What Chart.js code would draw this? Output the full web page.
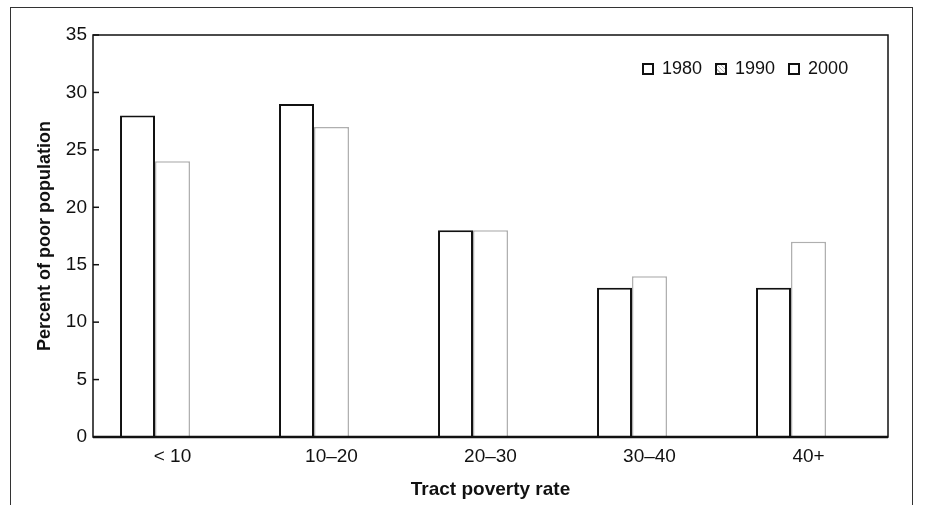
<!DOCTYPE html>
<html>
<head>
<meta charset="utf-8">
<script src="https://cdn.jsdelivr.net/npm/chart.js@4/dist/chart.umd.min.js"></script>
<style>
  body { margin: 0; background: #fff; }
  #wrap { position: relative; width: 927px; height: 505px; }
  #frame {
    position: absolute; left: 10px; top: 7px; width: 901px; height: 510px;
    border: 1.5px solid #333; border-bottom: none; pointer-events: none;
  }
  #legend {
    position: absolute; left: 642px; top: 58px;
    font: 18px "Liberation Sans", Arial, sans-serif; color: #111;
    display: flex; align-items: center; white-space: nowrap;
  }
  #legend span.box {
    display: inline-block; width: 8px; height: 8px; border: 2px solid #111;
    margin-right: 8px; background: #fff;
  }
  #legend span.item { display: inline-flex; align-items: center; margin-right: 13px; }
</style>
</head>
<body>
<div id="wrap">
  <canvas id="chart" width="927" height="505"></canvas>
  <div id="frame"></div>
  <div id="legend"></div>
</div>
<script>
// values
const categories = ["< 10", "10\u201320", "20\u201330", "30\u201340", "40+"];
const years = ["1980", "1990", "2000"];
const share1980 = [28, 29, 18, 13, 13];
const share1990 = [24, 27, 18, 14, 17];
const share2000 = [null, null, null, null, null]; // bars not legible in the scan
const yTicks = [0, 5, 10, 15, 20, 25, 30, 35];

// box around the plot and short inward ticks on the y axis
const framePlugin = {
  id: "frame",
  afterDraw(chart) {
    const { ctx, chartArea: a, scales } = chart;
    ctx.save();
    ctx.strokeStyle = "#111";
    ctx.lineWidth = 1.5;
    ctx.strokeRect(a.left, a.top, a.right - a.left, a.bottom - a.top);
    ctx.lineWidth = 2.5;
    ctx.beginPath();
    ctx.moveTo(a.left, a.bottom);
    ctx.lineTo(a.right, a.bottom);
    ctx.stroke();
    ctx.lineWidth = 1.5;
    yTicks.forEach(function (v) {
      const y = scales.y.getPixelForValue(v);
      ctx.beginPath();
      ctx.moveTo(a.left, y);
      ctx.lineTo(a.left + 6, y);
      ctx.stroke();
    });
    ctx.restore();
  }
};

const ctx = document.getElementById("chart").getContext("2d");
const chart = new Chart(ctx, {
  type: "bar",
  data: {
    labels: categories,
    datasets: [
      { label: years[0], data: share1980, backgroundColor: "#fff", borderColor: "#111", borderWidth: 2 },
      { label: years[1], data: share1990, backgroundColor: "#fff", borderColor: "rgba(110,110,110,0.55)", borderWidth: 1.5 },
      { label: years[2], data: share2000, backgroundColor: "#fff", borderColor: "rgba(150,150,150,0.3)", borderWidth: 1 }
    ]
  },
  options: {
    responsive: false,
    animation: false,
    categoryPercentage: 0.66,
    barPercentage: 1.0,
    layout: { padding: { left: 0, right: 39, top: 35, bottom: 0 } },
    plugins: { legend: { display: false }, tooltip: { enabled: false } },
    scales: {
      x: {
        grid: { display: false },
        border: { display: false },
        ticks: {
          color: "#111",
          padding: 0,
          font: { family: "Liberation Sans, Arial", size: 19 }
        },
        title: {
          display: true,
          text: "Tract poverty rate",
          color: "#111",
          padding: { top: 4 },
          font: { family: "Liberation Sans, Arial", size: 19, weight: "bold" }
        },
        afterFit(scale) { scale.height = 68; }
      },
      y: {
        min: 0,
        max: 35,
        grid: { display: false },
        border: { display: false },
        afterBuildTicks(scale) { scale.ticks = yTicks.map(v => ({ value: v })); },
        ticks: {
          color: "#111",
          padding: -2,
          font: { family: "Liberation Sans, Arial", size: 19 }
        },
        title: {
          display: true,
          text: "Percent of poor population",
          color: "#111",
          padding: { top: 34, bottom: 0 },
          font: { family: "Liberation Sans, Arial", size: 18, weight: "bold" }
        },
        afterFit(scale) { scale.width = 93; }
      }
    }
  },
  plugins: [framePlugin]
});

// legend drawn as html over the plot, like in the original
const legend = document.getElementById("legend");
chart.data.datasets.forEach(function (ds, i) {
  const item = document.createElement("span");
  item.className = "item";
  const box = document.createElement("span");
  box.className = "box";
  if (i === 1) box.style.background = "repeating-linear-gradient(45deg,#fff 0 2px,#bbb 2px 3px)";
  item.appendChild(box);
  item.appendChild(document.createTextNode(ds.label));
  legend.appendChild(item);
});
</script>
</body>
</html>
